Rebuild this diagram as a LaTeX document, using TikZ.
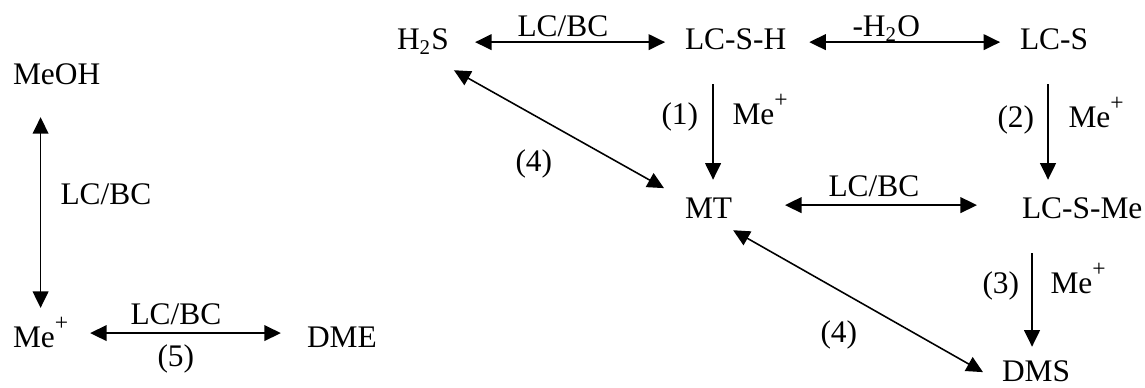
\documentclass[tikz,border=0pt]{standalone}
\usepackage{fontspec}
\setmainfont{Liberation Serif}
\usetikzlibrary{arrows.meta,calc}

\newcommand{\meplus}{Me\raisebox{6.6pt}{\fontsize{9}{9}\selectfont +}}

\tikzset{
  sp/.style={anchor=base west, inner sep=0pt, outer sep=0pt, text height=8pt, text depth=2pt},
  lbl/.style={anchor=base west, inner sep=0pt},
  eq/.style={{Triangle[length=6.3pt,width=6pt]}-{Triangle[length=6.3pt,width=6pt]}, line width=0.6pt},
  fw/.style={-{Triangle[length=6.3pt,width=6pt]}, line width=0.6pt, shorten <=11pt, shorten >=7pt},
}

\begin{document}
\begin{tikzpicture}[x=0.382pt, y=-0.382pt, font=\fontsize{12}{14}\selectfont]
\useasboundingbox (0,0) rectangle (1145,388);

% methanol side
\node[sp] (meoh) at (13,85) {MeOH};
\node[sp] (mep) at (13,348) {\meplus};
\node[sp] (dme) at (307,348) {DME};
\draw[eq, shorten <=10.3pt, shorten >=7.3pt] (meoh.south -| mep.north) -- (mep.north);
\draw[eq, shorten <=8.4pt, shorten >=10pt] ([yshift=2.7pt]mep.east) -- ([yshift=2.7pt]dme.west);
\node[lbl] (kleft) at (60,205) {LC/BC};
\node[lbl] (kbot) at (130,325) {LC/BC};
\node[lbl] (k5) at (157,367) {(5)};

% sulfur side
\node[sp] (h2s) at (397,50) {H\textsubscript{2}S};
\node[sp] (lcsh) at (685,50) {LC-S-H};
\node[sp] (lcs) at (1020,50) {LC-S};
\node[sp] (mt) at (685,219) {MT};
\node[sp] (lcsme) at (1022,219) {LC-S-Me};
\node[sp] (dms) at (1002,382) {DMS};

\draw[eq, shorten <=10pt, shorten >=7.6pt] (h2s.east) -- (lcsh.west);
\draw[eq, shorten <=8.8pt, shorten >=7.6pt] (lcsh.east) -- (lcs.west);
\draw[eq, shorten <=20.2pt, shorten >=17.2pt] ([yshift=2.3pt]mt.east) -- ([yshift=2.3pt]lcsme.west);
\node[lbl] (ktop) at (517,37) {LC/BC};
\node[lbl] (kwat) at (852,37) {-H\textsubscript{2}O};
\node[lbl] (kmid) at (828,197) {LC/BC};

% methylation steps
\draw[fw] ($(lcsh.south -| mt.north)+(4.5,0)$) -- ($(mt.north)+(4.5,0)$);
\draw[fw] ($(lcs.south)+(-6,0)$) -- ($(lcs.south |- lcsme.north)+(-6,0)$);
\draw[fw] ($(lcsme.south -| dms.north)+(-4,0)$) -- ($(dms.north)+(-4,4)$);
\node[lbl] (k1) at (661,125) {(1)};
\node[lbl] (m1) at (732,125) {\meplus};
\node[lbl] (k2) at (997,128) {(2)};
\node[lbl] (m2) at (1068,128) {\meplus};
\node[lbl] (k3) at (982,294) {(3)};
\node[lbl] (m3) at (1050,294) {\meplus};

% diagonals
\draw[eq] ($(h2s.south east)+(5,15)$) -- ($(mt.west)+(-21,-23)$);
\draw[eq] ($(mt.south east)+(1,6)$) -- ($(dms.west)+(-19,-2)$);
\node[lbl] (k4a) at (515,172) {(4)};
\node[lbl] (k4b) at (820,343) {(4)};
\end{tikzpicture}
\end{document}
